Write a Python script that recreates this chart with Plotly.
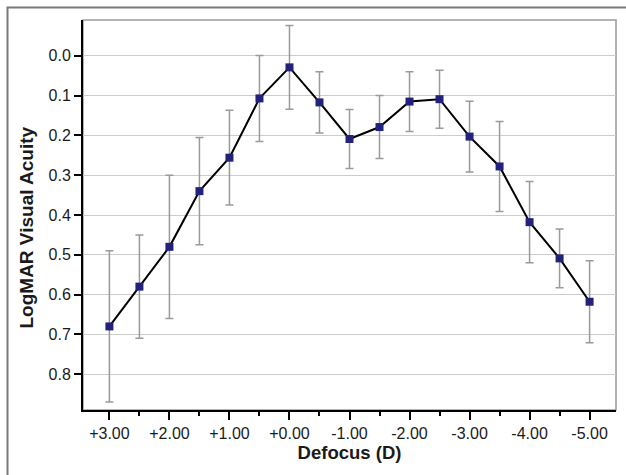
import plotly.graph_objects as go

# Data
defocus = [3.0, 2.5, 2.0, 1.5, 1.0, 0.5, 0.0, -0.5, -1.0, -1.5, -2.0, -2.5, -3.0, -3.5, -4.0, -4.5, -5.0]
logmar = [0.68, 0.58, 0.48, 0.34, 0.256, 0.107, 0.029, 0.117, 0.209, 0.179, 0.115, 0.109, 0.203, 0.278, 0.418, 0.509, 0.618]
sd = [0.19, 0.13, 0.18, 0.135, 0.119, 0.108, 0.105, 0.077, 0.074, 0.079, 0.075, 0.073, 0.089, 0.113, 0.102, 0.074, 0.103]

x_tickvals = [3, 2, 1, 0, -1, -2, -3, -4, -5]
x_ticktext = ["+3.00", "+2.00", "+1.00", "+0.00", "-1.00", "-2.00", "-3.00", "-4.00", "-5.00"]
x_minorvals = [2.5, 1.5, 0.5, -0.5, -1.5, -2.5, -3.5, -4.5]
y_tickvals = [0.0, 0.1, 0.2, 0.3, 0.4, 0.5, 0.6, 0.7, 0.8]

FONT = "Arial, 'Liberation Sans', sans-serif"

fig = go.Figure()
fig.add_trace(go.Scatter(
    x=defocus, y=logmar,
    mode="lines+markers",
    line=dict(color="black", width=2),
    marker=dict(symbol="square", size=8, color="#22227a"),
    error_y=dict(type="data", array=sd, visible=True, color="#9a9a9a", thickness=1.5, width=4),
    showlegend=False,
))

W, H = 626, 475
L, R, T, B = 83, 10, 20, 65
pw, ph = W - L - R, H - T - B

def px_x(p):
    return (p - L) / pw

def px_y(p):
    return (H - B - p) / ph

# outer figure frame (left and top edges visible)
fig.add_shape(
    type="path", xref="paper", yref="paper",
    path=f"M {px_x(7.5)} {px_y(480)} L {px_x(7.5)} {px_y(7.5)} L {px_x(630)} {px_y(7.5)}",
    line=dict(color="#7a7a7a", width=2), layer="below",
)
# plot-area box (gray top/right)
fig.add_shape(
    type="rect", xref="paper", yref="paper", x0=0, x1=1, y0=0, y1=1,
    line=dict(color="#9a9a9a", width=1.5), layer="below",
)

# y-axis title (placed as in the reference, slightly below the plot centre)
fig.add_annotation(
    text="<b>LogMAR Visual Acuity</b>", xref="paper", yref="paper",
    x=px_x(26), y=px_y(227.5), xanchor="center", yanchor="middle",
    textangle=-90, showarrow=False,
    font=dict(size=19, family=FONT, color="#1a1a1a"),
)

fig.update_layout(
    width=W, height=H,
    margin=dict(l=L, r=R, t=T, b=B),
    paper_bgcolor="white", plot_bgcolor="white",
    font=dict(family=FONT, color="#1a1a1a"),
    xaxis=dict(
        range=[3.44, -5.44],
        tickmode="array", tickvals=x_tickvals, ticktext=x_ticktext,
        ticks="outside", ticklen=8, tickwidth=1.5, tickcolor="black",
        tickfont=dict(size=16, family=FONT, color="#1a1a1a"),
        showline=True, linecolor="black", linewidth=2,
        showgrid=False, zeroline=False,
        minor=dict(tickmode="array", tickvals=x_minorvals,
                   ticks="outside", ticklen=4, tickwidth=1.5, tickcolor="black", showgrid=False),
        title=dict(text="<b>Defocus (D)</b>", font=dict(size=18.5, family=FONT, color="#1a1a1a"), standoff=5),
    ),
    yaxis=dict(
        range=[0.89, -0.09],
        tickmode="array", tickvals=y_tickvals, tickformat=".1f",
        ticks="outside", ticklen=7, tickwidth=1.5, tickcolor="black",
        tickfont=dict(size=16, family=FONT, color="#1a1a1a"),
        showline=True, linecolor="black", linewidth=2,
        showgrid=True, gridcolor="#cccccc", gridwidth=1.2, zeroline=False,
    ),
)

fig.write_html("out.html", config={"displayModeBar": False},
               post_script="document.body.style.margin='0';document.body.style.padding='0';")
